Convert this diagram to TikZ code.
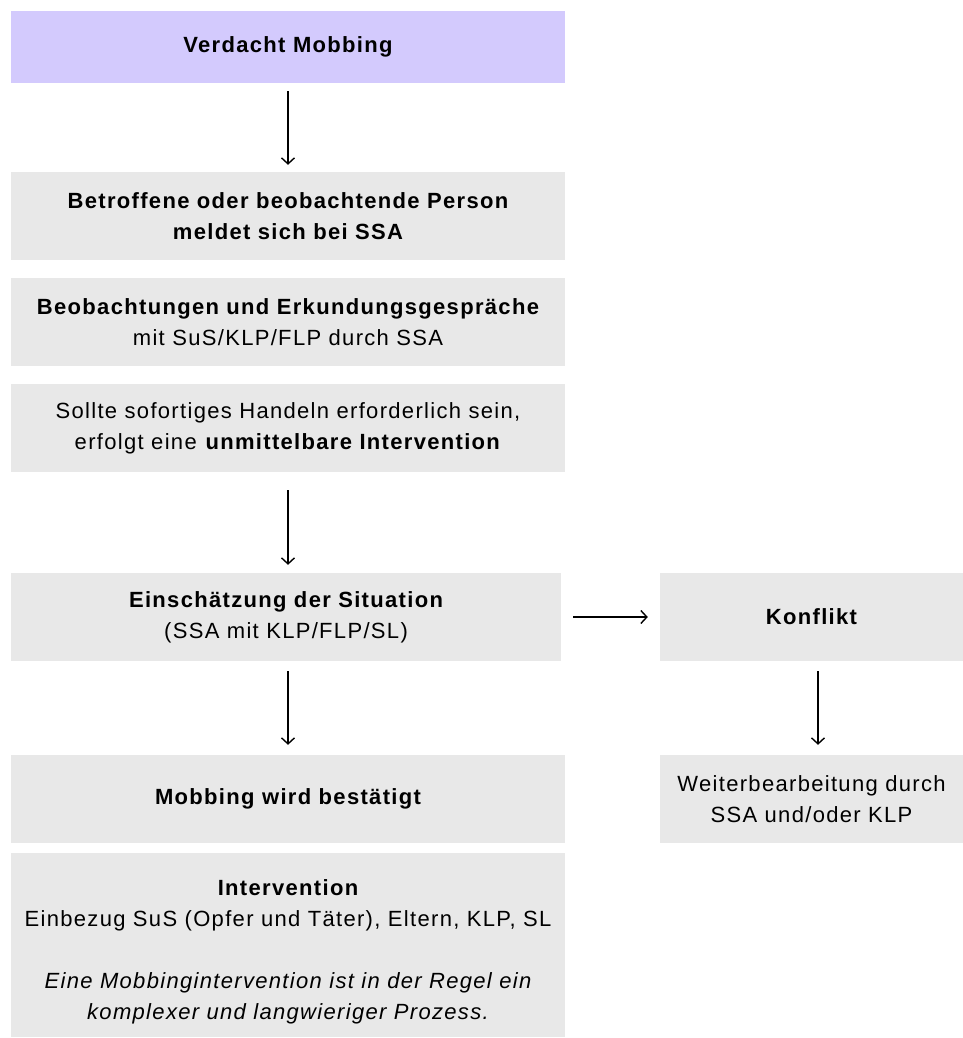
\documentclass[tikz,border=0pt]{standalone}
\usepackage{fontspec}
\setmainfont{Liberation Sans}[LetterSpace=6]
\usetikzlibrary{arrows.meta}
\definecolor{boxgray}{HTML}{E8E8E8}
\definecolor{boxpurple}{HTML}{D3CAFD}
\tikzset{
  txt/.style={inner sep=0pt, align=center, font=\fontsize{22}{31}\selectfont, text=black},
  box/.style={txt, rectangle, fill=boxgray},
  wide/.style={box, minimum width=554pt, minimum height=88pt},
  side/.style={box, minimum width=303pt, minimum height=88pt},
  conn/.style={draw=black, line width=1.4pt, -{Straight Barb[length=6pt,width=13pt,line width=1.4pt]}}
}
\begin{document}
\begin{tikzpicture}[x=1pt,y=-1pt]
\useasboundingbox (0,0) rectangle (963,1038);
\node[wide, fill=boxpurple, minimum height=72pt] (b1) at (288,47) {\bfseries Verdacht Mobbing};
\node[wide] (b2) at (288,216) {\bfseries Betroffene oder beobachtende Person\\\bfseries meldet sich bei SSA};
\node[wide] (b3) at (288,322) {\bfseries Beobachtungen und Erkundungsgespräche\\mit SuS/KLP/FLP durch SSA};
\node[wide] (b4) at (288,428) {Sollte sofortiges Handeln erforderlich sein,\\erfolgt eine \textbf{unmittelbare Intervention}};
\node[box, minimum width=550pt, minimum height=88pt] (b5) at (286,617) {\bfseries Einschätzung der Situation\\(SSA mit KLP/FLP/SL)};
\node[side] (k1) at (811.5,617) {\bfseries Konflikt};
\node[side] (k2) at (811.5,799) {Weiterbearbeitung durch\\SSA und/oder KLP};
\node[wide] (b6) at (288,799) {\bfseries Mobbing wird bestätigt};
\node[wide, minimum height=184pt] (b7) at (288,945) {};
\node[txt] (b7t) at ([yshift=-7pt]b7.center) {\bfseries Intervention\\Einbezug SuS (Opfer und Täter), Eltern, KLP, SL\\[31pt]\itshape Eine Mobbingintervention ist in der Regel ein\\\itshape komplexer und langwieriger Prozess.};
\draw[conn, shorten <=8pt, shorten >=7pt] (b1.south) -- (b2.north);
\draw[conn, shorten <=18pt, shorten >=8pt] (b4.south) -- (b4.south |- b5.north);
\draw[conn, shorten <=12pt, shorten >=12pt] (b5.east) -- (k1.west);
\draw[conn, shorten <=10pt, shorten >=10pt] (b6.north |- b5.south) -- (b6.north);
\draw[conn, shorten <=10pt, shorten >=10pt] ([xshift=6.5pt]k1.south) -- ([xshift=6.5pt]k2.north);
\end{tikzpicture}
\end{document}
